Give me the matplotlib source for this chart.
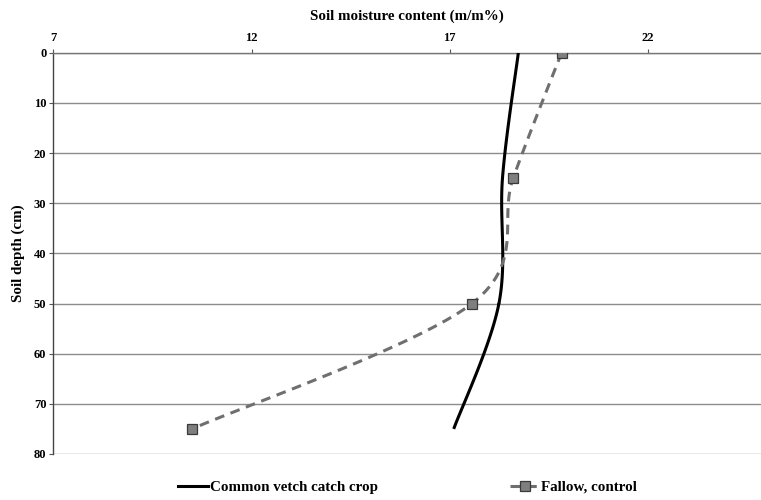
import numpy as np
import matplotlib.pyplot as plt
from matplotlib.lines import Line2D

# soil moisture (m/m%) measured at each depth (cm)
depth = [0, 25, 50, 75]
vetch = [18.73, 18.33, 18.24, 17.10]
fallow = [19.82, 18.60, 17.56, 10.50]

x_ticks = [7, 12, 17, 22]
y_ticks = [0, 10, 20, 30, 40, 50, 60, 70, 80]


def smooth(xs, ys, n=40):
    # Catmull-Rom curve through the points, like a spreadsheet "smoothed line"
    p = np.column_stack([xs, ys]).astype(float)
    p = np.vstack([p[0], p, p[-1]])
    out = []
    for i in range(1, len(p) - 2):
        p0, p1, p2, p3 = p[i - 1], p[i], p[i + 1], p[i + 2]
        t = np.linspace(0, 1, n)[:, None]
        seg = 0.5 * ((2 * p1) + (-p0 + p2) * t
                     + (2 * p0 - 5 * p1 + 4 * p2 - p3) * t ** 2
                     + (-p0 + 3 * p1 - 3 * p2 + p3) * t ** 3)
        out.append(seg)
    c = np.vstack(out)
    return c[:, 0], c[:, 1]


plt.rcParams['font.family'] = ['Liberation Serif', 'DejaVu Serif']
plt.rcParams['font.weight'] = 'bold'

fig = plt.figure(figsize=(7.61, 5.0), dpi=100)
ax = fig.add_axes([0.070, 0.092, 0.930, 0.8026])

for d in y_ticks:
    ax.axhline(d, color='#8c8c8c', lw=1.0, zorder=1)

vx, vy = smooth(vetch, depth)
ax.plot(vx, vy, color='black', lw=2.2, zorder=3, solid_capstyle='butt')

fx, fy = smooth(fallow, depth)
ax.plot(fx, fy, color='#6f6f6f', lw=2.2, ls=(0, (3.2, 2.2)), zorder=3)
ax.plot(fallow, depth, ls='none', marker='s', ms=6.5, mfc='#7f7f7f',
        mec='#3a3a3a', mew=0.9, zorder=4)

ax.set_xlim(7, 24.85)
ax.set_ylim(80, 0)
ax.xaxis.tick_top()
ax.xaxis.set_label_position('top')
ax.set_xticks(x_ticks)
ax.set_yticks(y_ticks)
ax.tick_params(axis='both', labelsize=9, length=3, width=0.8, color='#555555', pad=2)
ax.tick_params(axis='x', pad=3)

for s in ['right', 'bottom']:
    ax.spines[s].set_visible(False)
ax.spines['top'].set_color('#777777')
ax.spines['left'].set_color('#444444')
ax.spines['top'].set_linewidth(1.0)
ax.spines['left'].set_linewidth(1.0)

ax.set_xlabel('Soil moisture content (m/m%)', fontsize=10.8, fontweight='bold', labelpad=9)
ax.set_ylabel('Soil depth (cm)', fontsize=10.8, fontweight='bold', labelpad=6)

handles = [
    Line2D([], [], color='black', lw=2.2),
    Line2D([], [], color='#6f6f6f', lw=2.2, ls=(0, (3.2, 2.2)), marker='s',
           ms=6.5, mfc='#7f7f7f', mec='#3a3a3a', mew=0.9),
]
fig.legend(handles, ['Common vetch catch crop', 'Fallow, control'],
           loc='center', bbox_to_anchor=(0.536, 0.026), ncol=2, frameon=False,
           fontsize=10.8, handlelength=2.0, handletextpad=0.1, columnspacing=8.8)

fig.savefig('out.png', dpi=100)
